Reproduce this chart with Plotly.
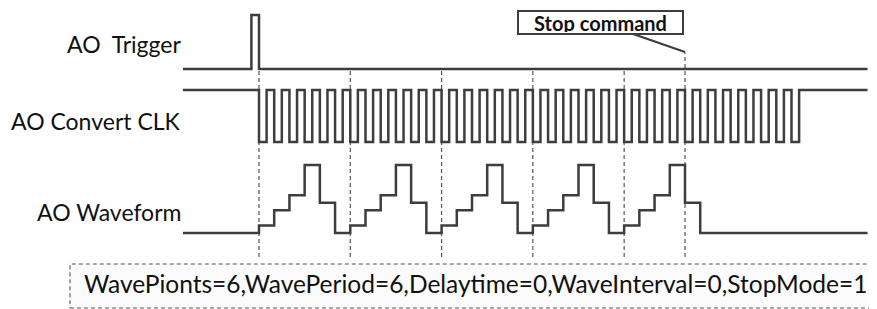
import plotly.graph_objects as go

# ---------------- data (time in AO clock cycles) ----------------
trigger_t = [-5, -0.5, 0, 40]
trigger_v = [0, 1, 0, 0]

clock_t = [-5,
           0, 0.5, 1, 1.5, 2, 2.5, 3, 3.5, 4, 4.5, 5, 5.5,
           6, 6.5, 7, 7.5, 8, 8.5, 9, 9.5, 10, 10.5, 11, 11.5,
           12, 12.5, 13, 13.5, 14, 14.5, 15, 15.5, 16, 16.5, 17, 17.5,
           18, 18.5, 19, 19.5, 20, 20.5, 21, 21.5, 22, 22.5, 23, 23.5,
           24, 24.5, 25, 25.5, 26, 26.5, 27, 27.5, 28, 28.5, 29, 29.5,
           30, 30.5, 31, 31.5, 32, 32.5, 33, 33.5, 34, 34.5, 35, 35.5,
           40]
clock_v = [1,
           0, 1, 0, 1, 0, 1, 0, 1, 0, 1, 0, 1,
           0, 1, 0, 1, 0, 1, 0, 1, 0, 1, 0, 1,
           0, 1, 0, 1, 0, 1, 0, 1, 0, 1, 0, 1,
           0, 1, 0, 1, 0, 1, 0, 1, 0, 1, 0, 1,
           0, 1, 0, 1, 0, 1, 0, 1, 0, 1, 0, 1,
           0, 1, 0, 1, 0, 1, 0, 1, 0, 1, 0, 1,
           1]

wave_t = [-5,
          0, 1, 2, 3, 4, 5,
          6, 7, 8, 9, 10, 11,
          12, 13, 14, 15, 16, 17,
          18, 19, 20, 21, 22, 23,
          24, 25, 26, 27, 28, 29,
          40]
wave_v = [0,
          1, 3, 5, 9, 4, 0,
          1, 3, 5, 9, 4, 0,
          1, 3, 5, 9, 4, 0,
          1, 3, 5, 9, 4, 0,
          1, 3, 5, 9, 4, 0,
          0]

period_starts = [0, 6, 12, 18, 24]
stop_time = 28

signal_names = ["AO\u00a0 Trigger", "AO Convert CLK", "AO Waveform"]
stop_label = "Stop command"
params_text = "WavePionts=6,WavePeriod=6,Delaytime=0,WaveInterval=0,StopMode=1"

# ---------------- layout helpers ----------------
# the page body has an 8px margin, so the figure is 8px smaller and all
# screen positions are shifted by that amount
OFF = 8
W, H = 877 - OFF, 309 - OFF

def P(px):
    return px - OFF

T0_PX, STOP_PX = P(259), P(685)
px_per_t = (STOP_PX - T0_PX) / stop_time
x_range = [-T0_PX / px_per_t, (W - T0_PX) / px_per_t]

def pfrac(px):
    return 1 - P(px) / H

def domain(px_lo, px_hi, lo, hi, pad):
    f_lo, f_hi = pfrac(px_lo), pfrac(px_hi)
    per = (f_hi - f_lo) / (hi - lo)
    return [f_lo - pad * per, f_hi + pad * per], [lo - pad, hi + pad]

d1, r1 = domain(69, 15, 0, 1, 0.12)
d2, r2 = domain(142, 90, 0, 1, 0.12)
d3, r3 = domain(233, 165, 0, 9, 0.6)

LC = "#3d3d3d"
LW = 2.5
FONT = "Lato"

fig = go.Figure()
fig.add_trace(go.Scatter(x=trigger_t, y=trigger_v, mode="lines", line_shape="hv",
                         line=dict(color=LC, width=LW), yaxis="y", hoverinfo="skip"))
fig.add_trace(go.Scatter(x=clock_t, y=clock_v, mode="lines", line_shape="hv",
                         line=dict(color=LC, width=LW), yaxis="y2", hoverinfo="skip"))
fig.add_trace(go.Scatter(x=wave_t, y=wave_v, mode="lines", line_shape="hv",
                         line=dict(color=LC, width=LW), yaxis="y3", hoverinfo="skip"))

hidden = dict(visible=False, showgrid=False, zeroline=False, fixedrange=True)
fig.update_layout(
    width=W, height=H, margin=dict(l=0, r=0, t=0, b=0),
    paper_bgcolor="white", plot_bgcolor="rgba(0,0,0,0)", showlegend=False,
    xaxis=dict(range=x_range, domain=[0, 1], **hidden),
    yaxis=dict(range=r1, domain=d1, **hidden),
    yaxis2=dict(range=r2, domain=d2, anchor="x", **hidden),
    yaxis3=dict(range=r3, domain=d3, anchor="x", **hidden),
)

shapes = []
dash_line = dict(color="#555555", width=1.2, dash="4px,3px")
for t in period_starts:
    shapes.append(dict(type="line", xref="x", yref="paper", x0=t, x1=t,
                       y0=pfrac(257), y1=pfrac(70), layer="below", line=dash_line))
shapes.append(dict(type="line", xref="x", yref="paper", x0=stop_time, x1=stop_time,
                   y0=pfrac(257), y1=pfrac(52), layer="below", line=dash_line))
shapes.append(dict(type="rect", xref="paper", yref="paper",
                   x0=P(70) / W, x1=1.02, y0=pfrac(308), y1=pfrac(264), layer="below",
                   fillcolor="#fbfbfb",
                   line=dict(color="#555555", width=1.1, dash="4px,3px")))
fig.update_layout(shapes=shapes)

ann = []
for name, cy in zip(signal_names, [44, 121, 212]):
    ann.append(dict(text=name, xref="paper", yref="paper", x=P(183) / W, y=pfrac(cy),
                    xanchor="right", yanchor="middle", showarrow=False,
                    font=dict(family=FONT, size=23, color="#111111")))
ann.append(dict(text="<b>" + stop_label + "</b>", xref="x", yref="paper",
                x=stop_time, y=pfrac(52), showarrow=True, arrowhead=0,
                arrowwidth=2.2, arrowcolor=LC, ax=-85, ay=-29.5,
                bgcolor="white", bordercolor=LC, borderwidth=2, borderpad=1,
                width=161, height=19,
                font=dict(family=FONT, size=20, color="#111111")))
ann.append(dict(text=params_text, xref="paper", yref="paper", x=P(82) / W, y=pfrac(283),
                xanchor="left", yanchor="middle", showarrow=False,
                font=dict(family=FONT, size=24.5, color="#111111")))
fig.update_layout(annotations=ann)

fig.write_html("out.html")
